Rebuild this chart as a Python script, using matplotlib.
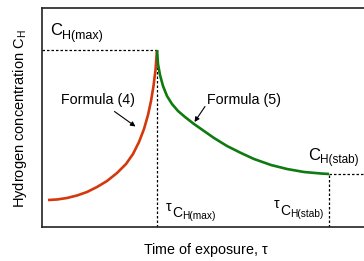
import matplotlib
matplotlib.use("Agg")
import matplotlib.pyplot as plt

plt.rcParams['font.family'] = ['Liberation Sans', 'DejaVu Sans']
plt.rcParams['mathtext.fontset'] = 'custom'
plt.rcParams['mathtext.rm'] = 'Liberation Sans'
plt.rcParams['mathtext.it'] = 'Liberation Sans'

# curve points (time units, concentration units)
grow_t = [6, 15, 25, 35, 45, 55, 65, 75, 84, 91, 97, 102, 106, 109, 111.5, 113.5, 115]
grow_c = [27, 27.5, 29, 31.5, 35, 40, 46, 54, 63, 73, 85, 98, 112, 126, 141, 157, 177]
decay_t = [115, 116, 118, 121, 125, 130, 136, 143, 152, 162, 172, 185, 199, 212, 229, 245, 262, 279, 287]
decay_c = [177, 163, 152, 141, 131, 123, 116, 110, 103, 96, 89, 81, 74, 68, 62, 58, 55, 53.5, 53]

t_max = 115
c_max = 177
t_stab = 287
c_stab = 53

W, H = 364, 261
X0, Y0 = 42, 227  # axes origin in pixels

fig = plt.figure(figsize=(W / 100, H / 100), dpi=100)
ax = fig.add_axes([X0 / W, (H - Y0) / H, (W - X0) / W, 219 / H])
ax.set_xlim(0, W - X0)
ax.set_ylim(0, 219)
ax.set_xticks([])
ax.set_yticks([])
for s in ['left', 'top', 'bottom']:
    ax.spines[s].set_linewidth(1.2)
    ax.spines[s].set_color('#222222')
ax.spines['right'].set_visible(False)

dash = (0, (2, 1.6))
ax.plot([0, t_max], [c_max, c_max], color='black', lw=0.9, ls=dash)
ax.plot([t_max, t_max], [0, c_max], color='black', lw=0.9, ls=dash)
ax.plot([t_stab, W - X0], [c_stab, c_stab], color='black', lw=0.9, ls=dash)
ax.plot([t_stab, t_stab], [0, c_stab], color='black', lw=0.9, ls=dash)

ax.plot(grow_t, grow_c, color='#d4380c', lw=1.9, solid_capstyle='butt')
ax.plot(decay_t, decay_c, color='#0e7a10', lw=1.9, solid_capstyle='butt')


def put(px, py, s, size):
    # place text by its left baseline, in picture pixels
    fig.text(px / W, 1 - py / H, s, fontsize=size, ha='left', va='baseline')


put(50, 35, 'C', 12)
put(62, 39, 'H(max)', 9)
put(308, 160, 'C', 12)
put(320, 163, 'H(stab)', 8.5)

put(166, 211, '\u03c4', 10)
put(172, 217, 'C', 10)
put(182, 219, 'H(max)', 7.3)
put(274, 208, '\u03c4', 10)
put(280, 215, 'C', 10)
put(290, 217, 'H(stab)', 7.3)

arrow = dict(arrowstyle='-|>', color='black', lw=0.8, mutation_scale=7,
             shrinkA=0, shrinkB=0)
ax.text(56, 127, 'Formula (4)', fontsize=10.3, ha='center', va='center')
ax.annotate('', xy=(93.5, 100.5), xytext=(72.5, 115.5), arrowprops=arrow)
ax.text(202, 127, 'Formula (5)', fontsize=10.3, ha='center', va='center')
ax.annotate('', xy=(152.5, 105), xytext=(163, 120.5), arrowprops=arrow)

fig.text(20 / W, 1 - 119 / H, r'Hydrogen concentration $\mathrm{C}_{\mathrm{H}}$',
         rotation=90, fontsize=10.5, ha='center', va='center')
fig.text(206 / W, 1 - 250 / H, r'Time of exposure, $\tau$',
         fontsize=10.3, ha='center', va='center')

fig.savefig('out.png', dpi=100)
